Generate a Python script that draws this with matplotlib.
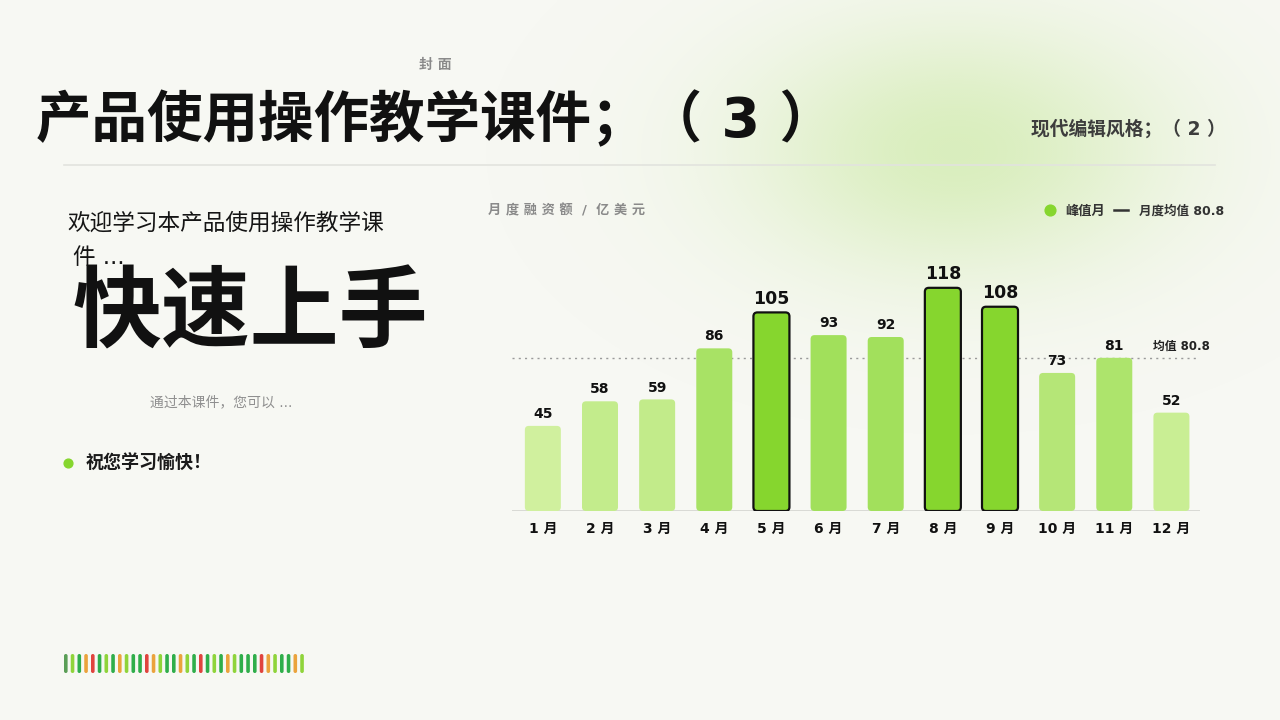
import numpy as np
import matplotlib
matplotlib.use("Agg")
import matplotlib.pyplot as plt
from matplotlib.patches import FancyBboxPatch
from matplotlib.colors import to_rgb

plt.rcParams['font.family'] = ['DejaVu Sans', 'Noto Sans CJK SC']

# 数据
meses = ["1 月", "2 月", "3 月", "4 月", "5 月", "6 月",
         "7 月", "8 月", "9 月", "10 月", "11 月", "12 月"]
montos = [45, 58, 59, 86, 105, 93, 92, 118, 108, 73, 81, 52]
picos = [4, 7, 8]  # 峰值月的索引
media = 80.8

fondo = "#f7f8f3"
verde_pico = "#86d62e"
verde_claro = "#d0f09e"
verde_medio = "#9fdf58"

fig = plt.figure(figsize=(12.8, 7.2), dpi=100, facecolor=fondo)

# 背景层，用像素坐标
bg = fig.add_axes([0, 0, 1, 1])
bg.axis("off")

# 右上角的绿色光晕
xx, yy = np.meshgrid(np.arange(0, 1280, 2), np.arange(0, 720, 2))
d = ((xx - 955) / 265.0) ** 2 + ((yy - 150) / 160.0) ** 2
alpha = np.clip(np.exp(-d * 1.6) * 0.6, 0, 1)
glow = np.zeros(xx.shape + (4,))
glow[..., :3] = to_rgb("#c6e89a")
glow[..., 3] = alpha
bg.imshow(glow, extent=(0, 1280, 720, 0), interpolation="bilinear", zorder=0)
bg.set_xlim(0, 1280)
bg.set_ylim(720, 0)

# 标题区
bg.text(435, 65, "封 面", fontsize=10, color="#8a8a8a", fontweight="bold",
        ha="center", va="center")
bg.text(36, 121, "产品使用操作教学课件；（ 3 ）", fontsize=40, fontweight="bold",
        color="#111111", ha="left", va="center")
bg.text(1226, 129, "现代编辑风格；（ 2 ）", fontsize=13.5, fontweight="bold",
        color="#3d3d3d", ha="right", va="center")
bg.plot([64, 1215], [165, 165], color="#e2e3de", lw=1.2)

# 左侧文字
bg.text(67, 223, "欢迎学习本产品使用操作教学课", fontsize=16.3, color="#151515",
        ha="left", va="center")
bg.text(73, 258, "件 ...", fontsize=16.3, color="#151515", ha="left", va="center")
bg.text(72, 316, "快速上手", fontsize=64, fontweight="bold", color="#111111",
        ha="left", va="center")
bg.text(150, 402, "通过本课件，您可以 ...", fontsize=10, color="#8f8f8f",
        ha="left", va="center")
bg.scatter([68], [463], s=40, color=verde_pico, zorder=3)
bg.text(86, 464, "祝您学习愉快！", fontsize=13, fontweight="bold",
        color="#1a1a1a", ha="left", va="center")

# 底部彩色条纹
v1, v2, na, ro, gr = "#2fae4a", "#8fd43a", "#eba33c", "#e0443e", "#5a9e56"
rayas = [gr, v2, v1, na, ro, v1, v2, v1, na, v2, v1, v1, ro, na, v2, v1, v1, na,
         v2, v1, ro, v1, v2, v1, na, v2, v1, v1, v1, ro, na, v2, v1, v1, na, v2]
for i, c in enumerate(rayas):
    x0 = 64 + i * 6.75
    bg.add_patch(FancyBboxPatch((x0, 654), 3.6, 19,
                                boxstyle="round,pad=0,rounding_size=1.8",
                                fc=c, ec="none", zorder=2))

# 图表头部
bg.text(488, 211, "月 度 融 资 额  /  亿 美 元", fontsize=9.5, color="#8a8a8a",
        fontweight="bold", ha="left", va="center")
bg.scatter([1050], [210], s=60, color=verde_pico, zorder=3)
bg.text(1065, 211, "峰值月", fontsize=9.5, fontweight="bold", color="#333333",
        ha="left", va="center")
bg.plot([1114, 1128], [210, 210], color="#333333", lw=1.8)
bg.text(1224, 211, "月度均值 80.8", fontsize=9, fontweight="bold",
        color="#333333", ha="right", va="center")

# 柱状图
ax = fig.add_axes([512 / 1280, (720 - 511) / 720, (1200 - 512) / 1280, 261 / 720])
ax.set_facecolor("none")
x = np.arange(len(montos))
barras = ax.bar(x, montos, width=0.63, color="none")

vmin = min(montos)
for i, (b, v) in enumerate(zip(barras, montos)):
    if i in picos:
        fc, ec, lw = verde_pico, "#111111", 1.6
    else:
        t = (v - vmin) / (95 - vmin)
        t = min(max(t, 0), 1)
        c1, c2 = np.array(to_rgb(verde_claro)), np.array(to_rgb(verde_medio))
        fc, ec, lw = tuple(c1 + (c2 - c1) * t), "none", 0
    p = FancyBboxPatch((b.get_x(), 0), b.get_width(), b.get_height(),
                       boxstyle="round,pad=0,rounding_size=0.07",
                       mutation_aspect=30, fc=fc, ec=ec, lw=lw, zorder=3)
    ax.add_patch(p)
    b.remove()
    grande = i in picos
    ax.annotate(str(v), (i, v), xytext=(0, 3.5),
                textcoords="offset points", ha="center", va="bottom",
                fontsize=12.5 if grande else 10, fontweight="bold",
                color="#111111")

ax.axhline(media, color="#9a9a9a", lw=1, ls=(0, (1.5, 3)), zorder=1)
ax.text(11.68, media + 3, "均值 80.8", fontsize=8.5, fontweight="bold",
        color="#222222", ha="right", va="bottom")
ax.axhline(0, color="#d6d7d2", lw=2, zorder=2)

ax.set_xlim(-0.54, 11.5)
ax.set_ylim(0, 138)
ax.set_xticks(x)
ax.set_xticklabels(meses, fontsize=10, fontweight="bold", color="#111111")
ax.tick_params(axis="x", length=0, pad=8)
ax.set_yticks([])
for s in ax.spines.values():
    s.set_visible(False)

fig.savefig("out.png", dpi=100, facecolor=fondo)
